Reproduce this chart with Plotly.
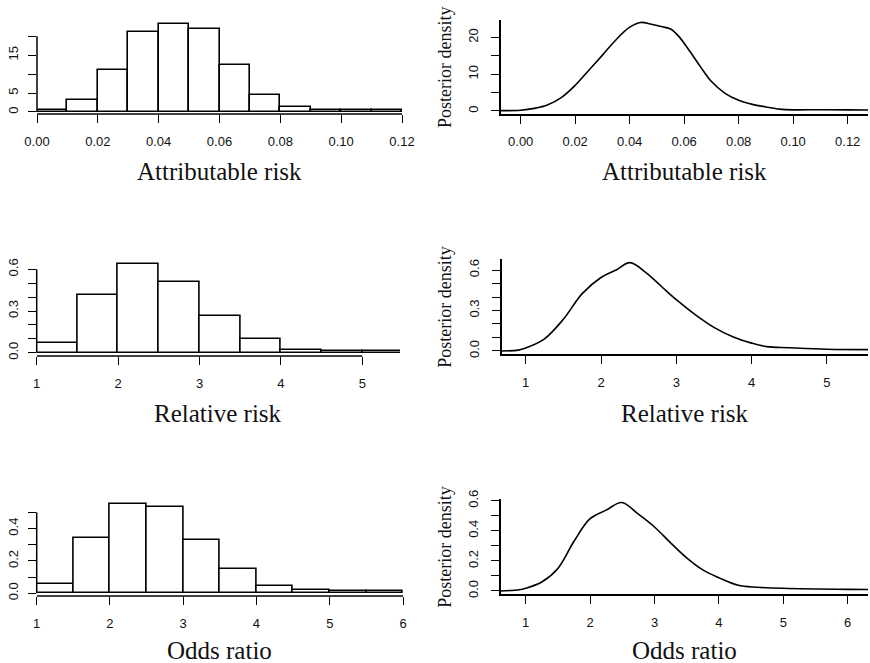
import plotly.graph_objects as go

W, H = 870, 663

# ---------------- data ----------------
# Histograms (left column): bin left edges, bin width, heights
ar_bin_left = [0.00, 0.01, 0.02, 0.03, 0.04, 0.05, 0.06, 0.07, 0.08, 0.09, 0.10, 0.11]
ar_bin_width = 0.01
ar_hist = [0.5, 3.2, 11.1, 21.1, 23.3, 21.9, 12.4, 4.5, 1.4, 0.4, 0.4, 0.5]

rr_bin_left = [1.0, 1.5, 2.0, 2.5, 3.0, 3.5, 4.0, 4.5, 5.0]
rr_bin_width = 0.5
rr_hist = [0.073, 0.413, 0.639, 0.51, 0.262, 0.097, 0.022, 0.015, 0.015]

or_bin_left = [1.0, 1.5, 2.0, 2.5, 3.0, 3.5, 4.0, 4.5, 5.0, 5.5]
or_bin_width = 0.5
or_hist = [0.06, 0.344, 0.552, 0.533, 0.327, 0.15, 0.044, 0.023, 0.015, 0.012]

# Posterior density curves (right column)
ar_dens_x = [-0.0073, 0.000, 0.005, 0.010, 0.015, 0.020, 0.025, 0.030, 0.035, 0.040, 0.044,
             0.048, 0.052, 0.055, 0.058, 0.062, 0.066, 0.070, 0.075, 0.080, 0.085, 0.090,
             0.095, 0.100, 0.110, 0.120, 0.1275]
ar_dens_y = [0.1, 0.2, 0.7, 1.7, 3.7, 7.0, 11.1, 15.2, 19.4, 22.8, 24.1,
             23.6, 22.9, 22.3, 20.3, 16.3, 12.0, 8.0, 4.8, 2.9, 1.8, 1.1,
             0.5, 0.3, 0.35, 0.3, 0.25]

rr_dens_x = [0.68, 0.9, 1.0, 1.25, 1.5, 1.75, 2.0, 2.2, 2.385, 2.6, 2.8, 3.0, 3.25, 3.5,
             3.75, 4.0, 4.2, 4.5, 5.0, 5.55]
rr_dens_y = [0.0, 0.006, 0.022, 0.09, 0.235, 0.425, 0.545, 0.60, 0.655, 0.58, 0.48, 0.38, 0.27,
             0.175, 0.105, 0.058, 0.032, 0.024, 0.013, 0.01]

or_dens_x = [0.61, 0.9, 1.0, 1.25, 1.5, 1.75, 2.0, 2.25, 2.49, 2.75, 3.0, 3.25, 3.5, 3.75,
             4.0, 4.3, 4.6, 5.0, 6.0, 6.32]
or_dens_y = [0.0, 0.008, 0.018, 0.06, 0.15, 0.33, 0.48, 0.537, 0.588, 0.51, 0.425, 0.32,
             0.22, 0.14, 0.088, 0.038, 0.025, 0.018, 0.011, 0.01]

# tick values / labels
ar_xticks = [0.00, 0.02, 0.04, 0.06, 0.08, 0.10, 0.12]
ar_xtext = ["0.00", "0.02", "0.04", "0.06", "0.08", "0.10", "0.12"]
rr_xticks = [1, 2, 3, 4, 5]
or_xticks = [1, 2, 3, 4, 5, 6]

hist_ar_yticks = [0, 5, 10, 15, 20]
hist_ar_ytext = ["0", "5", "", "15", ""]
hist_rr_yticks = [0.0, 0.1, 0.2, 0.3, 0.4, 0.5, 0.6]
hist_rr_ytext = ["0.0", "", "", "0.3", "", "", "0.6"]
hist_or_yticks = [0.0, 0.1, 0.2, 0.3, 0.4, 0.5]
hist_or_ytext = ["0.0", "", "0.2", "", "0.4", ""]

dens_ar_yticks = [0, 5, 10, 15, 20]
dens_ar_ytext = ["0", "", "10", "", "20"]
dens_rr_yticks = [0.0, 0.1, 0.2, 0.3, 0.4, 0.5, 0.6]
dens_rr_ytext = ["0.0", "", "", "0.3", "", "", "0.6"]
dens_or_yticks = [0.0, 0.1, 0.2, 0.3, 0.4, 0.5, 0.6]
dens_or_ytext = ["0.0", "", "0.2", "", "0.4", "", "0.6"]

xlabels = ["Attributable risk", "Relative risk", "Odds ratio"]
ylabel_right = "Posterior density"

# ---------------- layout helpers ----------------
def px_x(p):
    return p / W

def px_y(p):
    return 1 - p / H

TICK_FONT = dict(family="Liberation Sans, Arial, sans-serif", size=13, color="#111")
SERIF = "Liberation Serif, Times New Roman, serif"

panels = [
    # (xpx0, xpx1, xrange, ypx_bottom, ypx_top, yrange)
    (37, 402, [0, 0.12], 114, 18, [-0.533, 24.8]),
    (500.7, 868, [-0.00734, 0.12745], 114, 20, [-0.825, 24.76]),
    (36.7, 400, [1, 5.463], 356, 261, [-0.024, 0.66]),
    (501.7, 868, [0.681, 5.546], 354.3, 259.3, [-0.025, 0.68]),
    (36.7, 403, [1, 6.0], 596, 500, [-0.017, 0.577]),
    (500.7, 868, [0.612, 6.315], 594.3, 499, [-0.022, 0.611]),
]

xtick_sets = [(ar_xticks, ar_xtext), (ar_xticks, ar_xtext),
              (rr_xticks, [str(v) for v in rr_xticks]), (rr_xticks, [str(v) for v in rr_xticks]),
              (or_xticks, [str(v) for v in or_xticks]), (or_xticks, [str(v) for v in or_xticks])]
ytick_sets = [(hist_ar_yticks, hist_ar_ytext), (dens_ar_yticks, dens_ar_ytext),
              (hist_rr_yticks, hist_rr_ytext), (dens_rr_yticks, dens_rr_ytext),
              (hist_or_yticks, hist_or_ytext), (dens_or_yticks, dens_or_ytext)]

fig = go.Figure()

hists = [(ar_bin_left, ar_bin_width, ar_hist, 0),
         (rr_bin_left, rr_bin_width, rr_hist, 2),
         (or_bin_left, or_bin_width, or_hist, 4)]
dens = [(ar_dens_x, ar_dens_y, 1), (rr_dens_x, rr_dens_y, 3), (or_dens_x, or_dens_y, 5)]

def axnames(i):
    n = "" if i == 0 else str(i + 1)
    return "x" + n, "y" + n

for left, w, h, i in hists:
    xa, ya = axnames(i)
    fig.add_trace(go.Bar(
        x=[l + w / 2 for l in left], y=h, width=[w] * len(left),
        marker=dict(color="white", line=dict(color="black", width=1.6)),
        xaxis=xa, yaxis=ya, showlegend=False, hoverinfo="skip"))

for xs, ys, i in dens:
    xa, ya = axnames(i)
    fig.add_trace(go.Scatter(
        x=xs, y=ys, mode="lines", line=dict(color="black", width=1.6, shape="spline", smoothing=1.0),
        xaxis=xa, yaxis=ya, showlegend=False, hoverinfo="skip"))

layout = dict(template="none", width=W, height=H, margin=dict(l=0, r=0, t=0, b=0, autoexpand=False),
              paper_bgcolor="white", plot_bgcolor="white", bargap=0, showlegend=False)
shapes = []
annotations = []

for i, (x0, x1, xr, yb, yt, yr) in enumerate(panels):
    n = "" if i == 0 else str(i + 1)
    xt, xtt = xtick_sets[i]
    yt_, ytt = ytick_sets[i]
    is_hist = (i % 2 == 0)
    layout["xaxis" + n] = dict(
        domain=[px_x(x0), px_x(x1)], range=xr, anchor="y" + n, automargin=False,
        tickvals=xt, ticktext=xtt, ticks="outside", ticklen=8, tickwidth=1.3,
        tickcolor="black", tickfont=TICK_FONT, showgrid=False, zeroline=False,
        showline=not is_hist, linecolor="black", linewidth=1.5,
        ticklabelstandoff=7, fixedrange=True)
    layout["yaxis" + n] = dict(
        domain=[px_y(yb), px_y(yt)], range=yr, anchor="x" + n, automargin=False,
        tickvals=yt_, ticktext=ytt, ticks="outside", ticklen=8, tickwidth=1.3,
        tickcolor="black", tickfont=TICK_FONT, tickangle=-90, showgrid=False, zeroline=False,
        showline=not is_hist, linecolor="black", linewidth=1.5,
        ticklabelstandoff=5 if is_hist else 8, fixedrange=True)
    if is_hist:
        # R-style axis lines spanning only the tick range
        shapes.append(dict(type="line", xref="x" + n, yref="y" + n + " domain",
                           x0=xt[0], x1=xt[-1], y0=0, y1=0,
                           line=dict(color="black", width=1.5)))
        shapes.append(dict(type="line", xref="x" + n + " domain", yref="y" + n,
                           x0=0, x1=0, y0=yt_[0], y1=yt_[-1],
                           line=dict(color="black", width=1.5)))
    else:
        annotations.append(dict(text=ylabel_right, textangle=-90, xref="paper", yref="paper",
                                x=px_x(445), y=px_y((yb + yt) / 2), xanchor="center", yanchor="middle",
                                showarrow=False, font=dict(family=SERIF, size=18, color="#111")))

title_y = [172, 413, 650]
for r, lab in enumerate(xlabels):
    for c in range(2):
        x0, x1 = panels[r * 2 + c][0], panels[r * 2 + c][1]
        annotations.append(dict(text=lab, xref="paper", yref="paper",
                                x=px_x((x0 + x1) / 2), y=px_y(title_y[r]),
                                xanchor="center", yanchor="middle", showarrow=False,
                                font=dict(family=SERIF, size=25, color="#111")))

layout["shapes"] = shapes
layout["annotations"] = annotations
fig.update_layout(**layout)
fig.write_html("out.html")
